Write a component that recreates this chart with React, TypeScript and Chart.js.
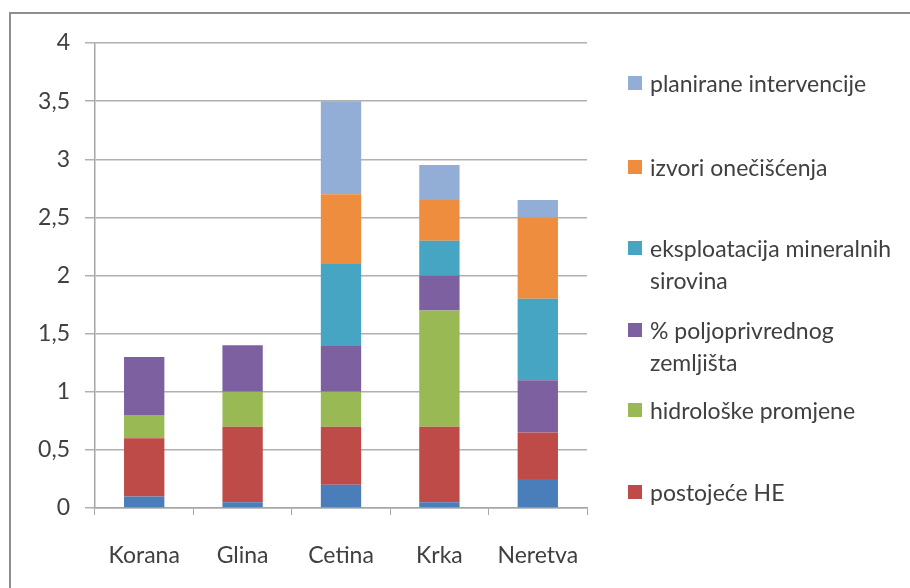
import React, { useEffect, useRef } from "react";
import { Chart, registerables } from "chart.js";

Chart.register(...registerables);

const categories = ["Korana", "Glina", "Cetina", "Krka", "Neretva"];

const seriesNames = [
  "",
  "postojeće HE",
  "hidrološke promjene",
  "% poljoprivrednog zemljišta",
  "eksploatacija mineralnih sirovina",
  "izvori onečišćenja",
  "planirane intervencije",
];

const baseValues = [0.1, 0.05, 0.2, 0.05, 0.25];
const postojeceHE = [0.5, 0.65, 0.5, 0.65, 0.4];
const hidroloske = [0.2, 0.3, 0.3, 1.0, 0];
const poljoprivredno = [0.5, 0.4, 0.4, 0.3, 0.45];
const eksploatacija = [0, 0, 0.7, 0.3, 0.7];
const izvori = [0, 0, 0.6, 0.35, 0.7];
const planirane = [0, 0, 0.8, 0.3, 0.15];

const seriesValues = [baseValues, postojeceHE, hidroloske, poljoprivredno, eksploatacija, izvori, planirane];

const seriesColors = ["#4a7ebb", "#be4b48", "#98b954", "#7d60a0", "#46a5c2", "#ef8d3e", "#93aed6"];

const yTickLabels = ["0", "0,5", "1", "1,5", "2", "2,5", "3", "3,5", "4"];

const legendTops = [67, 151, 232, 314, 394, 476];

const FONT = "Lato, 'Open Sans', sans-serif";
const TEXT = "#404040";

export default function App() {
  const ref = useRef<HTMLCanvasElement | null>(null);

  useEffect(() => {
    if (!ref.current) return;
    const chart = new Chart(ref.current, {
      type: "bar",
      data: {
        labels: categories,
        datasets: seriesValues.map((vals, i) => ({
          label: seriesNames[i],
          data: vals,
          backgroundColor: seriesColors[i],
          borderWidth: 0,
          categoryPercentage: 1,
          barPercentage: 0.41,
        })),
      },
      options: {
        responsive: false,
        animation: false,
        layout: { padding: { left: 0, right: 323, top: 43, bottom: 0 } },
        plugins: { legend: { display: false }, tooltip: { enabled: false } },
        scales: {
          x: {
            stacked: true,
            afterFit: (s: any) => {
              s.height = 80;
            },
            grid: {
              display: true,
              drawOnChartArea: false,
              drawTicks: true,
              tickLength: 7,
              color: "#a6a6a6",
              offset: true,
            },
            border: { display: true, color: "#a6a6a6", width: 1.5 },
            ticks: {
              padding: 27,
              color: TEXT,
              font: { family: FONT, size: 23 },
            },
          },
          y: {
            stacked: true,
            min: 0,
            max: 4,
            afterFit: (s: any) => {
              s.width = 95;
            },
            ticks: {
              stepSize: 0.5,
              padding: 15,
              color: TEXT,
              font: { family: FONT, size: 23 },
              callback: (_v: any, idx: number) => yTickLabels[idx],
            },
            grid: {
              color: "#b0b0b0",
              lineWidth: 1.5,
              tickLength: 10,
            },
            border: { display: true, color: "#a6a6a6", width: 1.5 },
          },
        },
      },
    });
    return () => chart.destroy();
  }, []);

  const legendItems = seriesNames
    .map((name, i) => ({ name, color: seriesColors[i] }))
    .filter((it) => it.name !== "")
    .reverse();

  return (
    <div
      style={{
        position: "absolute",
        left: 0,
        top: 0,
        width: 910,
        height: 588,
        overflow: "hidden",
        background: "#ffffff",
      }}
    >
      <div
        style={{
          position: "absolute",
          left: 9,
          top: 12,
          width: 1200,
          height: 1200,
          borderTop: "2px solid #8e8e8e",
          borderLeft: "2px solid #8e8e8e",
        }}
      />
      <canvas ref={ref} width={910} height={588} style={{ position: "absolute", left: 0, top: 0 }} />
      {legendItems.map((it, i) => (
        <div
          key={it.name}
          style={{
            position: "absolute",
            left: 628,
            top: legendTops[i],
            width: 275,
            display: "flex",
            alignItems: "flex-start",
            fontFamily: FONT,
            fontSize: 23,
            lineHeight: "32px",
            color: TEXT,
          }}
        >
          <span
            style={{
              display: "inline-block",
              width: 14,
              height: 14,
              marginTop: 9,
              marginRight: 8,
              background: it.color,
              flex: "0 0 auto",
            }}
          />
          <span style={{ flex: "1 1 auto" }}>{it.name}</span>
        </div>
      ))}
    </div>
  );
}
